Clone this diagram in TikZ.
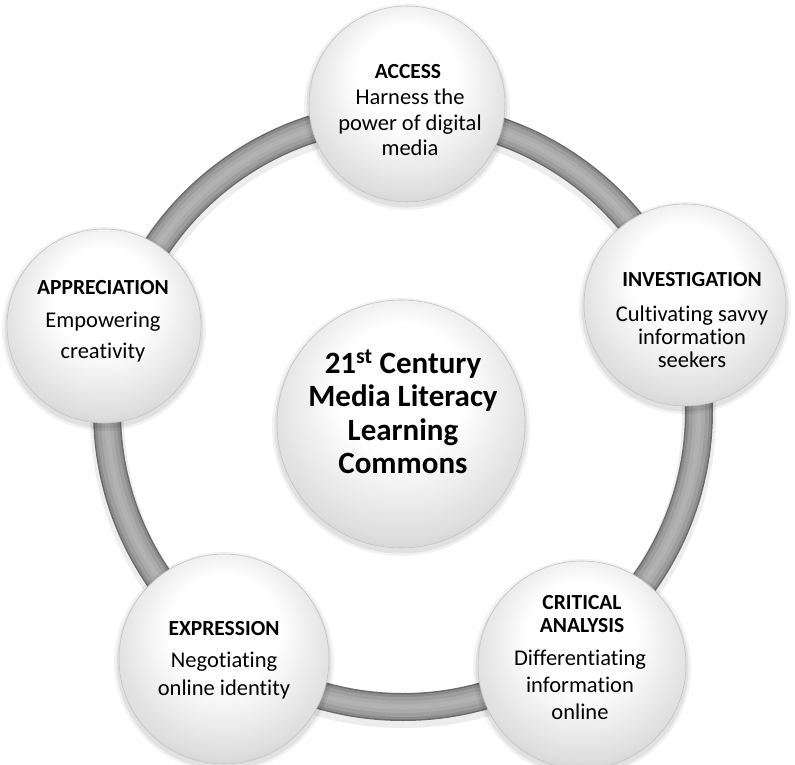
\documentclass[tikz,border=0pt]{standalone}
\usepackage{fontspec}
\setmainfont[Ligatures=NoCommon]{Carlito}
\pgfdeclareradialshading{bubble}{\pgfpoint{0bp}{10bp}}{color(0bp)=(white); color(13bp)=(white); color(27bp)=(black!13); color(35bp)=(black!26); color(45bp)=(black!26)}
\tikzset{
  bub/.style={circle, inner sep=0pt, shade, shading=bubble, draw=black!24, line width=0.6pt, minimum size=#1,
    preaction={draw=black, draw opacity=0.05, line width=10pt, transform canvas={yshift=-3pt}},
    preaction={draw=black, draw opacity=0.07, line width=5pt, transform canvas={yshift=-3pt}}},
  ttl/.style={anchor=base, inner sep=0pt, font=\fontsize{21.5}{25}\selectfont\bfseries},
  bdy/.style={anchor=base, inner sep=0pt, font=\fontsize{22.5}{26}\selectfont},
  ctr/.style={anchor=base, inner sep=0pt, font=\fontsize{31}{35}\selectfont\bfseries},
}
\begin{document}
\begin{tikzpicture}[x=1pt, y=-1pt]
\useasboundingbox (0,0) rectangle (795,765);
% ring
\coordinate (rc) at (403,411);
\draw[line width=34pt, black, draw opacity=0.07, transform canvas={yshift=-4pt}] (rc) circle[radius=296pt];
\foreach \w/\c in {28/black!58, 25/black!45, 20/black!38, 12/black!33, 5/black!30}
  \draw[line width=\w pt, \c] (rc) circle[radius=296pt];
% circles
\node[bub=196pt] (acc) at (407,104) {};
\node[bub=202pt] (inv) at (685,305) {};
\node[bub=208pt] (cri) at (582,665) {};
\node[bub=210pt] (exp) at (224,659) {};
\node[bub=194pt] (app) at (104,326) {};
\node[bub=248pt] (ctr) at (401,424) {};
% centre text
\node[ctr] (c1) at (403,373) {21\textsuperscript{st} Century};
\node[ctr] (c2) at (403,406.5) {Media Literacy};
\node[ctr] (c3) at (403,440) {Learning};
\node[ctr] (c4) at (403,473.5) {Commons};
% ACCESS
\node[ttl] (accT) at (408,78.5) {ACCESS};
\node[bdy] (acc1) at (410,105) {Harness the};
\node[bdy] (acc2) at (410,131) {power of digital};
\node[bdy] (acc3) at (410,156) {media};
% INVESTIGATION
\node[ttl] (invT) at (692,286.5) {INVESTIGATION};
\node[bdy] (inv1) at (692,321.5) {Cultivating savvy};
\node[bdy] (inv2) at (692,344.5) {information};
\node[bdy] (inv3) at (692,367.5) {seekers};
% CRITICAL ANALYSIS
\node[ttl] (criT1) at (582,609.5) {CRITICAL};
\node[ttl] (criT2) at (582,632.5) {ANALYSIS};
\node[bdy] (cri1) at (580,665.5) {Differentiating};
\node[bdy] (cri2) at (580,692.5) {information};
\node[bdy] (cri3) at (580,719.5) {online};
% EXPRESSION
\node[ttl] (expT) at (224,635.5) {EXPRESSION};
\node[bdy] (exp1) at (224,667.5) {Negotiating};
\node[bdy] (exp2) at (224,695.5) {online identity};
% APPRECIATION
\node[ttl] (appT) at (103,294.5) {APPRECIATION};
\node[bdy] (app1) at (103,327.5) {Empowering};
\node[bdy] (app2) at (103,358.5) {creativity};
\end{tikzpicture}
\end{document}
